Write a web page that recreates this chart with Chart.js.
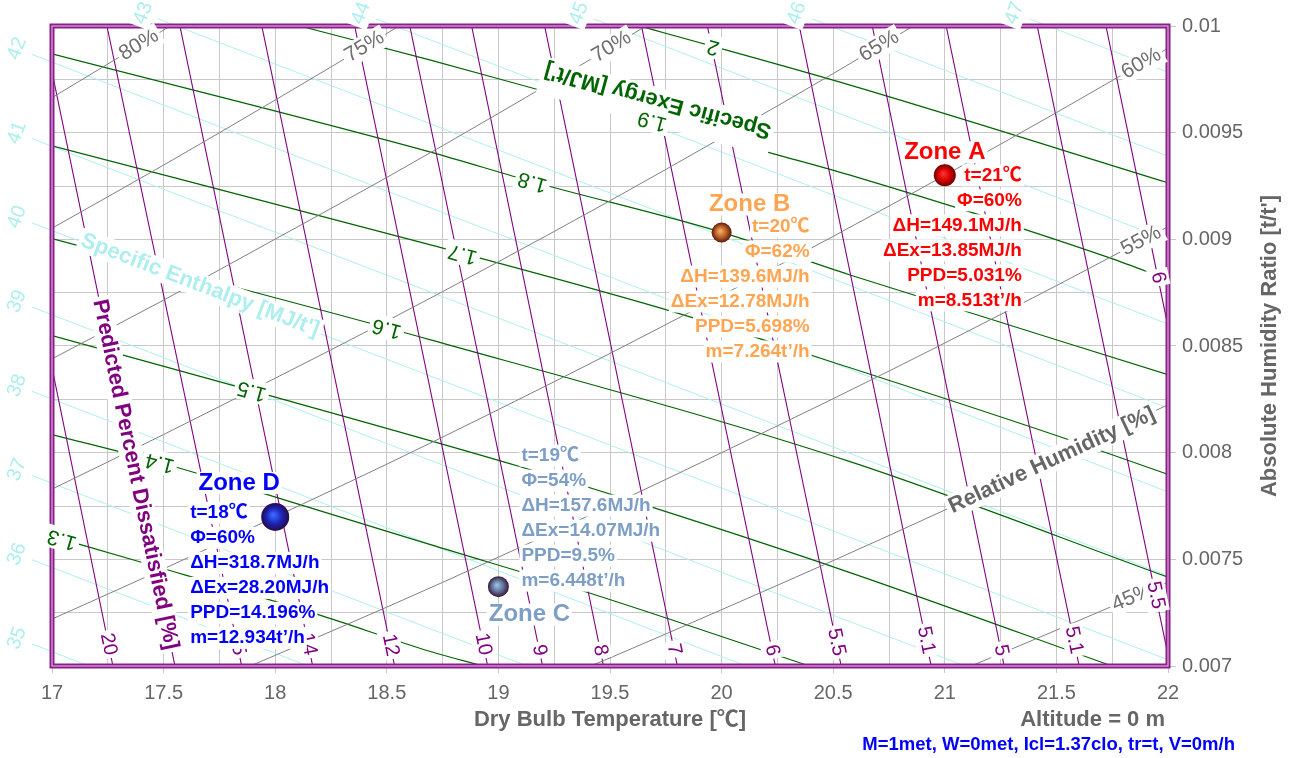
<!DOCTYPE html>
<html>
<head>
<meta charset="utf-8">
<title>Psychrometric chart</title>
<script src="https://cdn.jsdelivr.net/npm/chart.js@4.4.1/dist/chart.umd.min.js"></script>
<style>
html,body{margin:0;padding:0;background:#ffffff;}
canvas{display:block;}
</style>
</head>
<body>
<canvas id="chart" width="1295" height="758"></canvas>
<script>
// ---------- axis ranges and tick spacing ----------
const tRange = [17, 22];
const wRange = [0.007, 0.01];
const tStep = 0.25;      // grid step, labels every 0.5
const wStep = 0.00025;   // grid step, labels every 0.0005

// ---------- relative humidity curves [%] (humidity ratio at each temperature) ----------
const rhTemps  = [17, 17.5, 18, 18.5, 19, 19.5, 20, 20.5, 21, 21.5, 22];
const rhLevels = [80, 75, 70, 65, 60, 55, 50, 45];
const rh80 = [0.009664, 0.009981, 0.010308, null, null, null, null, null, null, null, null];
const rh75 = [0.009052, 0.009348, 0.009653, 0.009965, 0.010286, null, null, null, null, null, null];
const rh70 = [0.008440, 0.008715, 0.009001, 0.009290, 0.009590, 0.009898, 0.010217, null, null, null, null];
const rh65 = [0.007829, 0.008085, 0.008349, 0.008617, 0.008895, 0.009181, 0.009476, 0.009777, 0.010088, null, null];
const rh60 = [0.007220, 0.007455, 0.007699, 0.007946, 0.008202, 0.008465, 0.008737, 0.009014, 0.009300, 0.009594, 0.009896];
const rh55 = [0.006612, 0.006827, 0.007050, 0.007276, 0.007510, 0.007751, 0.008000, 0.008253, 0.008514, 0.008783, 0.009059];
const rh50 = [null, null, null, null, 0.006820, 0.007038, 0.007264, 0.007494, 0.007731, 0.007974, 0.008225];
const rh45 = [null, null, null, null, null, 0.006327, 0.006529, 0.006736, 0.006949, 0.007168, 0.007393];
const rhCurves = [rh80, rh75, rh70, rh65, rh60, rh55, rh50, rh45];
const rhLabelT = [17.39, 18.40, 19.507, 20.706, 21.88, 21.88, 21.48, 21.84];

// ---------- specific enthalpy lines [MJ/t'] ----------
const enthLevels = [35, 36, 37, 38, 39, 40, 41, 42, 43, 44, 45, 46, 47];
const enthStartT = [16.91, 16.91, 16.91, 16.91, 16.91, 16.91, 16.91, 16.91, 17.476, 18.452, 19.428, 20.404, 21.380];
const enthStartW = [0.0071033, 0.0074980, 0.0078929, 0.0082877, 0.0086826, 0.0090774, 0.0094723, 0.0098671, 0.010033, 0.010033, 0.010033, 0.010033, 0.010033];
const enthEndT   = [17.1665, 18.1478, 19.1291, 20.1104, 21.0918, 22, 22, 22, 22, 22, 22, 22, 22];
const enthEndW   = [0.007, 0.007, 0.007, 0.007, 0.007, 0.0070293, 0.0074227, 0.0078161, 0.0082095, 0.0086029, 0.0089963, 0.0093897, 0.0097831];

// ---------- specific exergy lines [MJ/t'] as [t, w] pairs ----------
const exLevels = [1.3, 1.4, 1.5, 1.6, 1.7, 1.8, 1.9, 2];
const ex13 = [[17, 0.007608], [17.385, 0.007491], [18.186, 0.007243], [18.692, 0.007069], [18.929, 0.007]];
const ex14 = [[17, 0.008085], [17.483, 0.007954], [18.034, 0.007781], [18.692, 0.007570], [19.453, 0.007327], [20.393, 0.007]];
const ex15 = [[17, 0.008549], [17.895, 0.008291], [19.095, 0.007935], [19.677, 0.007748], [20.572, 0.007439], [21.749, 0.007]];
const ex16 = [[17, 0.009003], [18.692, 0.008530], [20.572, 0.007959], [22, 0.007416]];
const ex17 = [[17, 0.009438], [18.692, 0.008975], [19.780, 0.008661], [20.572, 0.008399], [21.526, 0.008071], [22, 0.007898]];
const ex18 = [[17, 0.009869], [18.692, 0.009410], [19.153, 0.009270], [19.990, 0.009036], [20.572, 0.008834], [22, 0.008366]];
const ex19 = [[18.110, 0.01], [18.692, 0.009841], [19.184, 0.009700], [20.250, 0.009396], [20.572, 0.009302], [21.736, 0.008914], [22, 0.008811]];
const ex20 = [[19.632, 0.01], [20.572, 0.009724], [22, 0.009265]];
const exCurves = [ex13, ex14, ex15, ex16, ex17, ex18, ex19, ex20];
const exLabelT = [17.045, 17.483, 17.895, 18.50, 18.84, 19.153, 19.69, 19.963];

// ---------- predicted percent dissatisfied lines [%] ----------
const ppdText   = ['20', '', '15', '14', '12', '10', '9', '8', '7', '6', '5.5', '5.1', '5', '5.1', '5.5', '6'];
const ppdTopT   = [17, 17, 17.246, 17.573, 17.940, 18.356, 18.603, 18.880, 19.207, 19.641, 19.936, 20.348, 20.675, 21.006, 21.414, 21.722];
const ppdTopW   = [0.008399, 0.009785, 0.01, 0.01, 0.01, 0.01, 0.01, 0.01, 0.01, 0.01, 0.01, 0.01, 0.01, 0.01, 0.01, 0.01];
const ppdBotT   = [17.273, 17.551, 17.850, 18.168, 18.535, 18.952, 19.198, 19.471, 19.802, 20.241, 20.536, 20.939, 21.266, 21.602, 22, 22];
const ppdBotW   = [0.007, 0.007, 0.007, 0.007, 0.007, 0.007, 0.007, 0.007, 0.007, 0.007, 0.007, 0.007, 0.007, 0.007, 0.007052, 0.008591];
const ppdLabelW = [0.0071021, 0.0078979, 0.0071021, 0.0071021, 0.0070974, 0.0071021, 0.0070740, 0.0070740, 0.0070787, 0.0070740, 0.0071114, 0.0071208, 0.0070740, 0.0071208, 0.0073315, 0.0088202];

// ---------- zone states ----------
const zoneNames = ['Zone A', 'Zone B', 'Zone C', 'Zone D'];
const zoneT     = [21, 20, 19, 18];
const zoneRH    = [60, 62, 54, 60];
const zoneW     = [0.0093, 0.009032, 0.007372, 0.007699];
const zoneDH    = ['149.1', '139.6', '157.6', '318.7'];
const zoneDEx   = ['13.85', '12.78', '14.07', '28.20'];
const zonePPD   = ['5.031', '5.698', '9.5', '14.196'];
const zoneFlow  = ['8.513', '7.264', '6.448', '12.934'];

const footNote = 'M=1met, W=0met, Icl=1.37clo, tr=t, V=0m/h';
const altitudeText = 'Altitude = 0 m';

// ---------- styling ----------
const FONT = 'Arial, "Liberation Sans", "Noto Sans CJK JP", sans-serif';
const C_RH = '#808080', C_RH_TXT = '#6e6e6e';
const C_EN = '#afeeee';
const C_EX = '#006400';
const C_PPD = '#800080';
const C_AXIS = '#666666';

const zoneStyle = [
  { r: 11,   hi: '#ff3030', mid: '#d40000', lo: '#6a0000', text: '#ff0000', name: [0, -23],  align: 'right', lx: 77,  ly: 0 },
  { r: 10,   hi: '#f7ad62', mid: '#b85a26', lo: '#561c0c', text: '#ffa552', name: [28, -28], align: 'right', lx: 88,  ly: -6 },
  { r: 10.5, hi: '#9cc0e0', mid: '#5d6f94', lo: '#3a1636', text: '#7d9ec6', name: [31, 28],  align: 'left',  lx: 23,  ly: -131 },
  { r: 14,   hi: '#3d66ff', mid: '#1a24b4', lo: '#2a0848', text: '#0000ff', name: [-36, -34], align: 'left', lx: -85, ly: -4 }
];
const zoneLineGap = 25;

// ---------- datasets ----------
const datasets = [];

function markerFill(c) {
  const st = zoneStyle[c.dataIndex] || zoneStyle[0];
  if (c.type !== 'data' || !c.chart.scales || !c.chart.scales.x) return st.mid;
  const ch = c.chart;
  const x = ch.scales.x.getPixelForValue(zoneT[c.dataIndex]);
  const y = ch.scales.y.getPixelForValue(zoneW[c.dataIndex]);
  if (!isFinite(x) || !isFinite(y)) return st.mid;
  const r = st.r;
  const g = ch.ctx.createRadialGradient(x - r * 0.15, y - r * 0.15, r * 0.05, x, y, r);
  g.addColorStop(0, st.hi);
  g.addColorStop(0.55, st.mid);
  g.addColorStop(1, st.lo);
  return g;
}

datasets.push({
  data: zoneT.map((t, i) => ({ x: t, y: zoneW[i] })),
  showLine: false,
  pointRadius: zoneStyle.map(s => s.r),
  pointHoverRadius: zoneStyle.map(s => s.r),
  pointBackgroundColor: markerFill,
  pointBorderWidth: 0,
  order: 0
});

// relative humidity
rhLevels.forEach((lv, k) => {
  const pts = [];
  rhTemps.forEach((t, j) => { if (rhCurves[k][j] !== null) pts.push({ x: t, y: rhCurves[k][j] }); });
  const tag = lv === 50
    ? { text: 'Relative Humidity [%]', axis: 'x', at: rhLabelT[k], font: 'bold 22px ' + FONT, size: 22, color: C_AXIS, rot: 0 }
    : { text: lv + '%', axis: 'x', at: rhLabelT[k], font: '21px ' + FONT, size: 21, color: C_RH_TXT, rot: 0 };
  datasets.push({
    data: pts, showLine: true, pointRadius: 0, borderColor: C_RH, borderWidth: 1,
    cubicInterpolationMode: 'monotone', order: 1, tags: [tag]
  });
});

// predicted percent dissatisfied
ppdText.forEach((txt, k) => {
  const tag = txt === ''
    ? { text: 'Predicted Percent Dissatisfied [%]', axis: 'y', at: ppdLabelW[k], font: 'bold 22px ' + FONT, size: 22, color: C_PPD, rot: 0 }
    : { text: txt, axis: 'y', at: ppdLabelW[k], font: '20px ' + FONT, size: 20, color: C_PPD, rot: 0 };
  datasets.push({
    data: [{ x: ppdTopT[k], y: ppdTopW[k] }, { x: ppdBotT[k], y: ppdBotW[k] }],
    showLine: true, pointRadius: 0, borderColor: C_PPD, borderWidth: 1.1, order: 2, tags: [tag]
  });
});

// specific exergy
exLevels.forEach((lv, k) => {
  const tags = [{ text: String(lv), axis: 'x', at: exLabelT[k], font: '21px ' + FONT, size: 21, color: C_EX, rot: Math.PI }];
  if (lv === 1.9) {
    tags.unshift({ text: "Specific Exergy [MJ/t']", axis: 'x', at: exLabelT[k], font: 'bold 22px ' + FONT, size: 22,
                   color: C_EX, rot: Math.PI, dy: 21, boxDy: 15, boxH: 38 });
  }
  datasets.push({
    data: exCurves[k].map(p => ({ x: p[0], y: p[1] })),
    showLine: true, pointRadius: 0, borderColor: C_EX, borderWidth: 1.2,
    cubicInterpolationMode: 'monotone', order: 3, tags: tags
  });
});

// specific enthalpy (lines run a little past the frame, with the value at the outer end)
enthLevels.forEach((lv, k) => {
  const tags = [{ text: String(lv), beyond: 16, font: '20px ' + FONT, size: 20, color: C_EN, rot: -Math.PI / 2 }];
  if (lv === 40) {
    tags.push({ text: "Specific Enthalpy [MJ/t']", axis: 'x', at: 17.66, font: 'bold 22px ' + FONT, size: 22, color: C_EN, rot: 0, dy: -2 });
  }
  datasets.push({
    data: [{ x: enthStartT[k], y: enthStartW[k] }, { x: enthEndT[k], y: enthEndW[k] }],
    showLine: true, pointRadius: 0, borderColor: C_EN, borderWidth: 1, clip: false, order: 4, tags: tags
  });
});

// ---------- label helpers ----------
function pointAlong(pts, axis, pix) {
  for (let i = 0; i < pts.length - 1; i++) {
    const a = pts[i], b = pts[i + 1];
    const lo = Math.min(a[axis], b[axis]), hi = Math.max(a[axis], b[axis]);
    if (pix >= lo && pix <= hi && hi > lo) {
      const f = (pix - a[axis]) / (b[axis] - a[axis]);
      return { x: a.x + f * (b.x - a.x), y: a.y + f * (b.y - a.y), ang: Math.atan2(b.y - a.y, b.x - a.x) };
    }
  }
  return null;
}

function tagPosition(chart, meta, tag) {
  const pts = meta.data.map(p => ({ x: p.x, y: p.y }));
  if (pts.length < 2) return null;
  if (tag.beyond) {
    const a = pts[0], b = pts[1];
    const dx = a.x - b.x, dy = a.y - b.y, L = Math.hypot(dx, dy);
    return { x: a.x + dx / L * tag.beyond, y: a.y + dy / L * tag.beyond, ang: Math.atan2(b.y - a.y, b.x - a.x) };
  }
  const scale = tag.axis === 'x' ? chart.scales.x : chart.scales.y;
  return pointAlong(pts, tag.axis, scale.getPixelForValue(tag.at));
}

function drawTag(ctx, pos, tag) {
  ctx.save();
  ctx.translate(pos.x, pos.y);
  ctx.rotate(pos.ang + tag.rot);
  ctx.font = tag.font;
  const w = ctx.measureText(tag.text).width;
  const dy = tag.dy || 0;
  const bh = tag.boxH || tag.size + 2;
  const bdy = tag.boxDy !== undefined ? tag.boxDy : dy;
  ctx.fillStyle = '#ffffff';
  ctx.fillRect(-w / 2 - 3, bdy - bh / 2, w + 6, bh);
  ctx.fillStyle = tag.color;
  ctx.textAlign = 'center';
  ctx.textBaseline = 'middle';
  ctx.fillText(tag.text, 0, dy);
  ctx.restore();
}

function boxedText(ctx, text, x, y, align, color, font) {
  ctx.font = font;
  const w = ctx.measureText(text).width;
  const x0 = align === 'right' ? x - w : (align === 'center' ? x - w / 2 : x);
  ctx.fillStyle = '#ffffff';
  ctx.fillRect(x0 - 2, y - 11, w + 4, 22);
  ctx.fillStyle = color;
  ctx.textAlign = align;
  ctx.textBaseline = 'middle';
  ctx.fillText(text, x, y);
}

const chartDecor = {
  id: 'chartDecor',
  afterDatasetsDraw(chart) {
    const ctx = chart.ctx;
    const a = chart.chartArea;

    // plot frame
    ctx.save();
    ctx.strokeStyle = '#8a1e8a';
    ctx.lineWidth = 5;
    ctx.strokeRect(a.left, a.top, a.right - a.left, a.bottom - a.top);
    ctx.strokeStyle = '#dca8dc';
    ctx.lineWidth = 1.2;
    ctx.strokeRect(a.left, a.top, a.right - a.left, a.bottom - a.top);
    ctx.restore();

    // line labels
    chart.data.datasets.forEach((ds, i) => {
      if (!ds.tags) return;
      const meta = chart.getDatasetMeta(i);
      ds.tags.forEach(tag => {
        const pos = tagPosition(chart, meta, tag);
        if (pos) drawTag(ctx, pos, tag);
      });
    });

    // zone annotations
    ctx.save();
    zoneNames.forEach((nm, i) => {
      const st = zoneStyle[i];
      const px = chart.scales.x.getPixelForValue(zoneT[i]);
      const py = chart.scales.y.getPixelForValue(zoneW[i]);
      const lines = [
        't=' + zoneT[i] + '℃',
        'Φ=' + zoneRH[i] + '%',
        'ΔH=' + zoneDH[i] + 'MJ/h',
        'ΔEx=' + zoneDEx[i] + 'MJ/h',
        'PPD=' + zonePPD[i] + '%',
        'm=' + zoneFlow[i] + 't’/h'
      ];
      lines.forEach((ln, j) => {
        boxedText(ctx, ln, px + st.lx, py + st.ly + j * zoneLineGap, st.align, st.text, 'bold 19px ' + FONT);
      });
      boxedText(ctx, nm, px + st.name[0], py + st.name[1], 'center', st.text, 'bold 24px ' + FONT);
    });
    ctx.restore();

    // axis titles and notes
    ctx.save();
    ctx.fillStyle = C_AXIS;
    ctx.textBaseline = 'middle';
    ctx.font = 'bold 22px ' + FONT;
    ctx.textAlign = 'center';
    ctx.fillText('Dry Bulb Temperature [℃]', (a.left + a.right) / 2, a.bottom + 54);
    ctx.textAlign = 'right';
    ctx.fillText(altitudeText, a.right - 3, a.bottom + 54);
    ctx.fillStyle = '#0000ff';
    ctx.font = 'bold 18.5px ' + FONT;
    ctx.fillText(footNote, a.right + 67, a.bottom + 79);
    ctx.fillStyle = C_AXIS;
    ctx.font = 'bold 22px ' + FONT;
    ctx.translate(a.right + 102, (a.top + a.bottom) / 2);
    ctx.rotate(-Math.PI / 2);
    ctx.textAlign = 'center';
    ctx.fillText("Absolute Humidity Ratio [t/t']", 0, 0);
    ctx.restore();
  }
};

function isMajor(v, step) {
  const k = v / step;
  return Math.abs(k - Math.round(k)) < 1e-6;
}

Chart.defaults.font.family = FONT;

new Chart(document.getElementById('chart'), {
  type: 'scatter',
  data: { datasets: datasets },
  options: {
    responsive: false,
    animation: false,
    devicePixelRatio: 1,
    events: [],
    layout: { padding: { left: 52, top: 26, right: 0, bottom: 0 } },
    plugins: { legend: { display: false }, tooltip: { enabled: false } },
    scales: {
      x: {
        type: 'linear', position: 'bottom',
        min: tRange[0], max: tRange[1],
        afterFit(scale) { scale.height = 92; },
        border: { display: false },
        grid: {
          color: '#c8c8c8', lineWidth: 1, tickLength: 7,
          tickColor: c => (c.tick && isMajor(c.tick.value, 0.5)) ? '#c8c8c8' : 'rgba(0,0,0,0)'
        },
        ticks: {
          stepSize: tStep, autoSkip: false, maxRotation: 0, padding: 8,
          color: C_AXIS, font: { size: 20 },
          callback: v => isMajor(v, 0.5) ? String(+v.toFixed(2)) : ''
        }
      },
      y: {
        type: 'linear', position: 'right',
        min: wRange[0], max: wRange[1],
        afterFit(scale) { scale.width = 127; },
        border: { display: false },
        grid: {
          color: '#c8c8c8', lineWidth: 1, tickLength: 8,
          tickColor: c => (c.tick && isMajor(c.tick.value, 0.0005)) ? '#c8c8c8' : 'rgba(0,0,0,0)'
        },
        ticks: {
          stepSize: wStep, autoSkip: false, padding: 6,
          color: C_AXIS, font: { size: 20 },
          callback: v => isMajor(v, 0.0005) ? String(+v.toFixed(5)) : ''
        }
      }
    }
  },
  plugins: [chartDecor]
});
</script>
</body>
</html>
